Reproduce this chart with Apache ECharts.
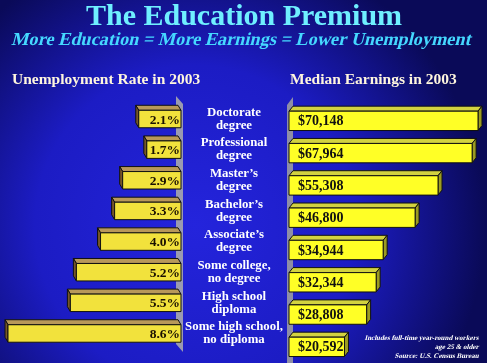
<!DOCTYPE html>
<html>
<head>
<meta charset="utf-8">
<script src="https://cdn.jsdelivr.net/npm/echarts@6/dist/echarts.min.js"></script>
<style>html,body{margin:0;padding:0;}#c{width:487px;height:363px;}</style>
</head>
<body>
<div id="c"></div>
<script>
var categories = ['Doctorate\ndegree', 'Professional\ndegree', 'Master\u2019s\ndegree', 'Bachelor\u2019s\ndegree',
  'Associate\u2019s\ndegree', 'Some college,\nno degree', 'High school\ndiploma', 'Some high school,\nno diploma'];
var unemploymentRate = [2.1, 1.7, 2.9, 3.3, 4.0, 5.2, 5.5, 8.6];
var medianEarnings = [70148, 67964, 55308, 46800, 34944, 32344, 28808, 20592];

var SERIF = '"Liberation Serif", "DejaVu Serif", serif';
var chart = echarts.init(document.getElementById('c'), null, {renderer: 'canvas'});

function renderLeft(params, api) {
  var v = api.value(0), c = api.value(1);
  var p0 = api.coord([0, c]);
  var p1 = api.coord([v, c]);
  var h = api.size([0, 1])[1] * 0.57;
  var top = p0[1] - h / 2, bot = p0[1] + h / 2;
  var xl = p1[0], xr = p0[0], dx = -3, dy = -5;
  var st = {stroke: '#111', lineWidth: 1};
  return {type: 'group', children: [
    {type: 'polygon', shape: {points: [[xl, top], [xr, top], [xr + dx, top + dy], [xl + dx, top + dy]]},
      style: Object.assign({fill: '#B8985A'}, st)},
    {type: 'polygon', shape: {points: [[xl, top], [xl + dx, top + dy], [xl + dx, bot + dy], [xl, bot]]},
      style: Object.assign({fill: '#765628'}, st)},
    {type: 'rect', shape: {x: xl, y: top, width: xr - xl, height: h},
      style: Object.assign({fill: '#F2E23C'}, st)},
    {type: 'text', x: xr - 1, y: p0[1] + 1,
      style: {text: v.toFixed(1) + '%', align: 'right', verticalAlign: 'middle', fill: '#1a1000',
        font: 'bold 13.5px ' + SERIF}}
  ]};
}

function renderRight(params, api) {
  var v = api.value(0), c = api.value(1);
  var p0 = api.coord([0, c]);
  var p1 = api.coord([v, c]);
  var h = api.size([0, 1])[1] * 0.6;
  var top = p0[1] - h / 2, bot = p0[1] + h / 2;
  var xl = p0[0], xr = p1[0], dx = 4, dy = -5;
  var st = {stroke: '#111', lineWidth: 1};
  return {type: 'group', children: [
    {type: 'polygon', shape: {points: [[xl, top], [xr, top], [xr + dx, top + dy], [xl + dx, top + dy]]},
      style: Object.assign({fill: '#D2D240'}, st)},
    {type: 'polygon', shape: {points: [[xr, top], [xr + dx, top + dy], [xr + dx, bot + dy], [xr, bot]]},
      style: Object.assign({fill: '#9C9C22'}, st)},
    {type: 'rect', shape: {x: xl, y: top, width: xr - xl, height: h},
      style: Object.assign({fill: '#FFFF26'}, st)},
    {type: 'text', x: xl + 9, y: p0[1] + 1,
      style: {text: '$' + v.toLocaleString('en-US'), align: 'left', verticalAlign: 'middle', fill: '#111',
        font: 'bold 14px ' + SERIF}}
  ]};
}

var leftData = unemploymentRate.map(function (v, i) { return [v, i]; });
var rightData = medianEarnings.map(function (v, i) { return [v, i]; });

var option = {
  backgroundColor: {type: 'radial', x: 0.4, y: 0.62, r: 0.8,
    colorStops: [{offset: 0, color: '#2424DC'}, {offset: 0.55, color: '#1C1CC4'}, {offset: 1, color: '#0A0A58'}]},
  animation: false,
  graphic: [
    {type: 'text', z: 3, x: 244, y: 17,
      style: {text: 'The Education Premium', align: 'center', verticalAlign: 'middle', fill: '#6FEFFF',
        font: 'bold 30px ' + SERIF}},
    {type: 'text', z: 3, x: 242, y: 40, skewX: -0.25,
      style: {text: 'More Education = More Earnings = Lower Unemployment', align: 'center', verticalAlign: 'middle',
        fill: '#45D8FF', font: 'bold 18.3px ' + SERIF}},
    {type: 'text', z: 3, x: 12, y: 80,
      style: {text: 'Unemployment Rate in 2003', align: 'left', verticalAlign: 'middle', fill: '#FFF6DE',
        font: 'bold 15.5px ' + SERIF}},
    {type: 'text', z: 3, x: 290, y: 80,
      style: {text: 'Median Earnings in 2003', align: 'left', verticalAlign: 'middle', fill: '#FFF6DE',
        font: 'bold 15.5px ' + SERIF}},
    {type: 'polygon', z: 1, shape: {points: [[176, 96], [183, 104], [183, 352], [176, 344]]},
      style: {fill: '#9A9AB0'}},
    {type: 'polygon', z: 1, shape: {points: [[287, 105], [293, 97], [293, 363], [287, 363]]},
      style: {fill: '#8E8EA6'}},
    {type: 'text', z: 3, x: 479, y: 338, skewX: -0.25,
      style: {text: 'Includes full-time year-round workers', align: 'right', verticalAlign: 'middle',
        fill: '#FFFFFF', font: 'bold 7px ' + SERIF}},
    {type: 'text', z: 3, x: 479, y: 347, skewX: -0.25,
      style: {text: 'age 25 & older', align: 'right', verticalAlign: 'middle',
        fill: '#FFFFFF', font: 'bold 7px ' + SERIF}},
    {type: 'text', z: 3, x: 479, y: 356, skewX: -0.25,
      style: {text: 'Source: U.S. Census Bureau', align: 'right', verticalAlign: 'middle',
        fill: '#FFFFFF', font: 'bold 7px ' + SERIF}}
  ],
  grid: [
    {left: 8, width: 173, top: 103.7, height: 245.1},
    {left: 289, width: 189, top: 104.7, height: 260.6}
  ],
  xAxis: [
    {gridIndex: 0, type: 'value', inverse: true, min: 0, max: 'dataMax', show: false},
    {gridIndex: 1, type: 'value', min: 0, max: 'dataMax', show: false}
  ],
  yAxis: [
    {gridIndex: 0, type: 'category', data: categories, inverse: true, position: 'right',
      axisLine: {show: false}, axisTick: {show: false}, splitLine: {show: false},
      axisLabel: {margin: 53, align: 'center', color: '#FFFFFF', fontFamily: SERIF, fontWeight: 'bold',
        fontSize: 12.8, lineHeight: 13}},
    {gridIndex: 1, type: 'category', data: categories, inverse: true, show: false}
  ],
  series: [
    {type: 'custom', xAxisIndex: 0, yAxisIndex: 0, z: 5, data: leftData, encode: {x: 0, y: 1},
      renderItem: renderLeft},
    {type: 'custom', xAxisIndex: 1, yAxisIndex: 1, z: 5, data: rightData, encode: {x: 0, y: 1},
      renderItem: renderRight}
  ]
};
chart.setOption(option);
</script>
</body>
</html>
